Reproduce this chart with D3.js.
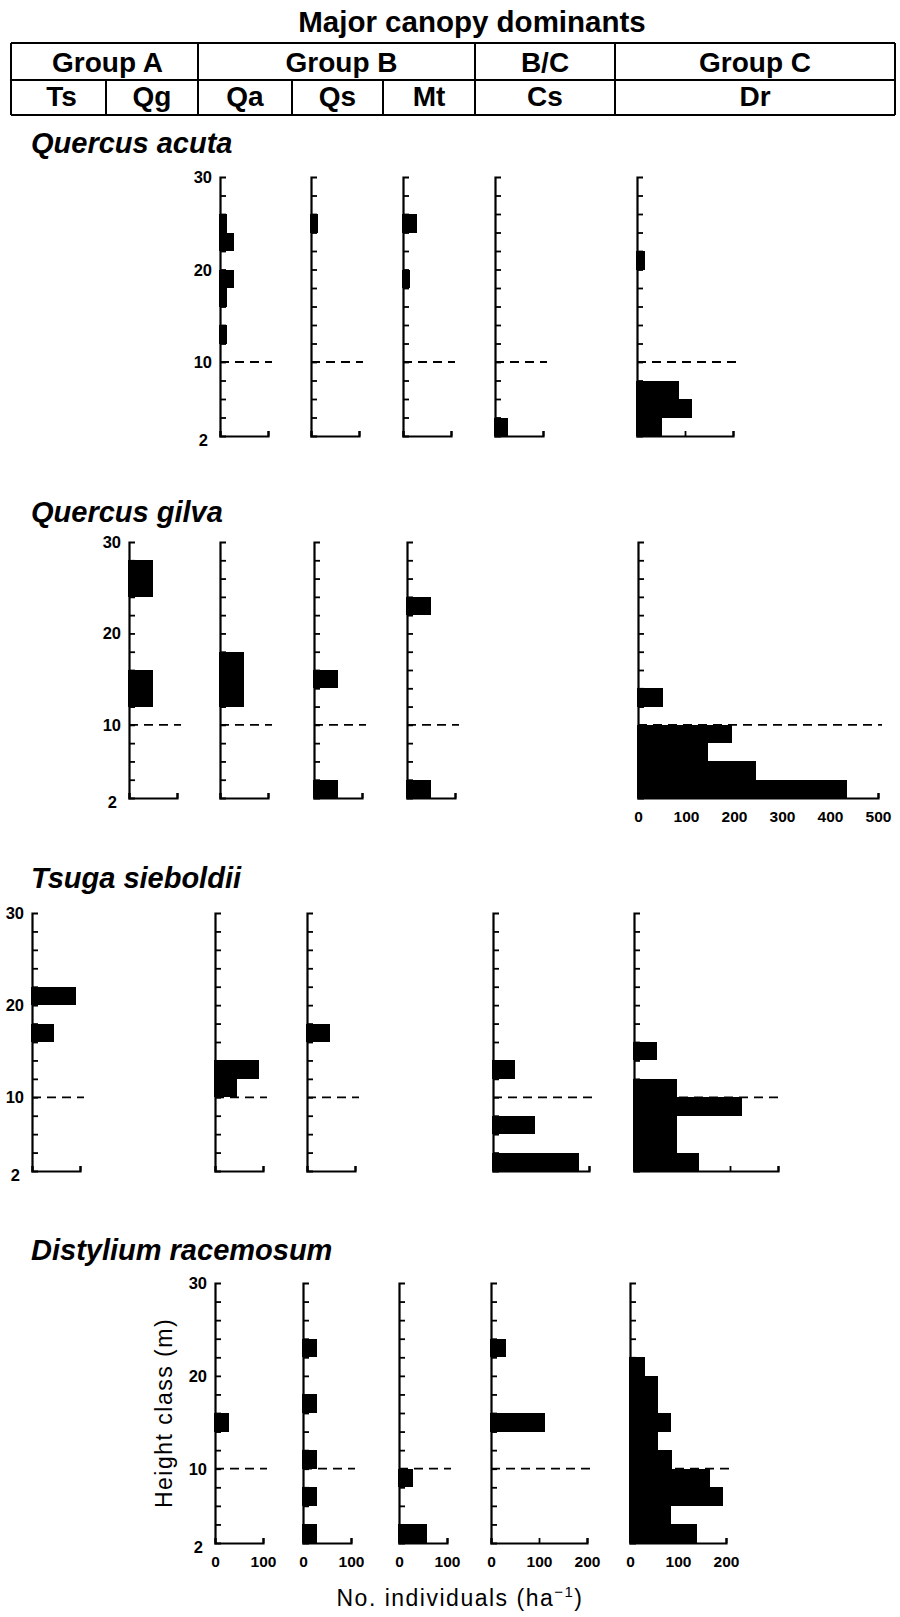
<!DOCTYPE html>
<html>
<head>
<meta charset="utf-8">
<script src="https://cdn.jsdelivr.net/npm/d3@7"></script>
<style>
  body { margin: 0; background: #fff; }
  svg { display: block; font-family: "Liberation Sans", Arial, Helvetica, sans-serif; }
</style>
</head>
<body>
<svg id="chart" width="900" height="1617"></svg>
<script>
// ---- Data ---------------------------------------------------------------
// Lower bound (m) of each 2-m height class, 2–4 m up to 28–30 m
const heightClasses = [2, 4, 6, 8, 10, 12, 14, 16, 18, 20, 22, 24, 26, 28];

// Stand types (columns) and their canopy-dominant groups
const standCodes = ["Ts", "Qg", "Qa", "Qs", "Mt", "Cs", "Dr"];
const groupLabels = ["Group A", "Group B", "B/C", "Group C"];
const groupSpans = [["Ts", "Qg"], ["Qa", "Qs", "Mt"], ["Cs"], ["Dr"]];

const speciesNames = ["Quercus acuta", "Quercus gilva", "Tsuga sieboldii", "Distylium racemosum"];

// No. individuals (ha-1) per height class, one array per species × stand
const acutaQa = [0, 0, 0, 0, 0, 15, 0, 15, 30, 0, 30, 15, 0, 0];
const acutaQs = [0, 0, 0, 0, 0, 0, 0, 0, 0, 0, 0, 15, 0, 0];
const acutaMt = [0, 0, 0, 0, 0, 0, 0, 0, 15, 0, 0, 30, 0, 0];
const acutaCs = [28, 0, 0, 0, 0, 0, 0, 0, 0, 0, 0, 0, 0, 0];
const acutaDr = [53, 115, 87, 0, 0, 0, 0, 0, 0, 17, 0, 0, 0, 0];

const gilvaQg = [0, 0, 0, 0, 0, 50, 50, 0, 0, 0, 0, 50, 50, 0];
const gilvaQa = [0, 0, 0, 0, 0, 50, 50, 50, 0, 0, 0, 0, 0, 0];
const gilvaQs = [50, 0, 0, 0, 0, 0, 50, 0, 0, 0, 0, 0, 0, 0];
const gilvaMt = [50, 0, 0, 0, 0, 0, 0, 0, 0, 0, 50, 0, 0, 0];
const gilvaDr = [435, 245, 145, 195, 0, 53, 0, 0, 0, 0, 0, 0, 0, 0];

const tsugaTs = [0, 0, 0, 0, 0, 0, 0, 46, 0, 92, 0, 0, 0, 0];
const tsugaQa = [0, 0, 0, 0, 45, 92, 0, 0, 0, 0, 0, 0, 0, 0];
const tsugaQs = [0, 0, 0, 0, 0, 0, 0, 47, 0, 0, 0, 0, 0, 0];
const tsugaCs = [180, 0, 88, 0, 0, 45, 0, 0, 0, 0, 0, 0, 0, 0];
const tsugaDr = [135, 89, 89, 224, 89, 0, 48, 0, 0, 0, 0, 0, 0, 0];

const distyliumQa = [0, 0, 0, 0, 0, 0, 29, 0, 0, 0, 0, 0, 0, 0];
const distyliumQs = [29, 0, 29, 0, 29, 0, 0, 29, 0, 0, 30, 0, 0, 0];
const distyliumMt = [58, 0, 0, 29, 0, 0, 0, 0, 0, 0, 0, 0, 0, 0];
const distyliumCs = [0, 0, 0, 0, 0, 0, 113, 0, 0, 0, 32, 0, 0, 0];
const distyliumDr = [139, 85, 194, 166, 87, 59, 85, 59, 59, 32, 0, 0, 0, 0];

// Axis ranges and labels
const heightDomain = [2, 30];
const heightTickLabels = [30, 20, 10, 2];
const canopyLine = 10;           // dashed reference height (m)
const countTickStep = 100;

// ---- Layout -------------------------------------------------------------
const PX_PER_IND = 0.48;         // horizontal px per individual ha-1
const FONT = '"Liberation Sans", Arial, Helvetica, sans-serif';

const rows = [
  { title: speciesNames[0], titleY: 153, top: 177, bottom: 436,
    panels: [
      { stand: "Qa", x: 220, max: 100, data: acutaQa },
      { stand: "Qs", x: 311, max: 100, data: acutaQs },
      { stand: "Mt", x: 403, max: 100, data: acutaMt },
      { stand: "Cs", x: 495, max: 100, data: acutaCs },
      { stand: "Dr", x: 637, max: 200, data: acutaDr }
    ] },
  { title: speciesNames[1], titleY: 522, top: 542, bottom: 798,
    panels: [
      { stand: "Qg", x: 129, max: 100, data: gilvaQg },
      { stand: "Qa", x: 220, max: 100, data: gilvaQa },
      { stand: "Qs", x: 314, max: 100, data: gilvaQs },
      { stand: "Mt", x: 407, max: 100, data: gilvaMt },
      { stand: "Dr", x: 638, max: 500, data: gilvaDr, countLabels: true }
    ] },
  { title: speciesNames[2], titleY: 888, top: 913, bottom: 1171,
    panels: [
      { stand: "Ts", x: 32, max: 100, data: tsugaTs },
      { stand: "Qa", x: 215, max: 100, data: tsugaQa },
      { stand: "Qs", x: 307, max: 100, data: tsugaQs },
      { stand: "Cs", x: 493, max: 200, data: tsugaCs },
      { stand: "Dr", x: 634, max: 300, data: tsugaDr }
    ] },
  { title: speciesNames[3], titleY: 1260, top: 1283, bottom: 1543,
    panels: [
      { stand: "Qa", x: 215, max: 100, data: distyliumQa, countLabels: true },
      { stand: "Qs", x: 303, max: 100, data: distyliumQs, countLabels: true },
      { stand: "Mt", x: 399, max: 100, data: distyliumMt, countLabels: true },
      { stand: "Cs", x: 491, max: 200, data: distyliumCs, countLabels: true },
      { stand: "Dr", x: 630, max: 200, data: distyliumDr, countLabels: true }
    ] }
];

const svg = d3.select("#chart");

// ---- Header table: major canopy dominants ------------------------------
const tableLeft = 11, tableRight = 895;
const tableRows = [43, 80, 115];
const standEdges = { Ts: [11, 106], Qg: [106, 198], Qa: [198, 292], Qs: [292, 383],
                     Mt: [383, 475], Cs: [475, 615], Dr: [615, 895] };

svg.append("text")
  .attr("x", 472).attr("y", 32)
  .attr("text-anchor", "middle")
  .attr("font-size", 29.5).attr("font-weight", "bold")
  .text("Major canopy dominants");

const header = svg.append("g").attr("stroke", "#000").attr("stroke-width", 2);
tableRows.forEach(yy => header.append("line")
  .attr("x1", tableLeft).attr("x2", tableRight).attr("y1", yy).attr("y2", yy));
header.append("line").attr("x1", tableLeft).attr("x2", tableLeft)
  .attr("y1", tableRows[0]).attr("y2", tableRows[2]);
header.append("line").attr("x1", tableRight).attr("x2", tableRight)
  .attr("y1", tableRows[0]).attr("y2", tableRows[2]);

// group boundaries run through both header rows
groupSpans.forEach((span, gi) => {
  const x0 = standEdges[span[0]][0];
  const x1 = standEdges[span[span.length - 1]][1];
  if (gi > 0) header.append("line").attr("x1", x0).attr("x2", x0)
    .attr("y1", tableRows[0]).attr("y2", tableRows[2]);
  svg.append("text")
    .attr("x", (x0 + x1) / 2 + (gi === 1 ? 5 : gi === 0 ? 3 : 0)).attr("y", 72)
    .attr("text-anchor", "middle")
    .attr("font-size", 28).attr("font-weight", "bold")
    .text(groupLabels[gi]);
});
// stand boundaries only in the lower row
standCodes.forEach((code, i) => {
  const [x0, x1] = standEdges[code];
  if (i > 0) header.append("line").attr("x1", x0).attr("x2", x0)
    .attr("y1", tableRows[1]).attr("y2", tableRows[2]);
  svg.append("text")
    .attr("x", (x0 + x1) / 2 + (code === "Ts" ? 3 : 0)).attr("y", 106)
    .attr("text-anchor", "middle")
    .attr("font-size", 28).attr("font-weight", "bold")
    .text(code);
});

// ---- Height-class histograms -------------------------------------------
rows.forEach(row => {
  svg.append("text")
    .attr("x", 31).attr("y", row.titleY)
    .attr("font-size", 29).attr("font-weight", "bold").attr("font-style", "italic")
    .text(row.title);

  const y = d3.scaleLinear().domain(heightDomain).range([row.bottom, row.top]);

  row.panels.forEach((p, pi) => {
    const x = d3.scaleLinear().domain([0, p.max])
      .range([p.x, p.x + p.max * PX_PER_IND]);
    const g = svg.append("g").attr("class", "panel " + p.stand);

    // 10-m reference line
    g.append("line")
      .attr("x1", x(0)).attr("x2", x(p.max) + 4)
      .attr("y1", y(canopyLine)).attr("y2", y(canopyLine))
      .attr("stroke", "#000").attr("stroke-width", 1.8)
      .attr("stroke-dasharray", "9,6");

    // bars, one per 2-m height class
    const bins = heightClasses.map((h, i) => ({ h, v: p.data[i] })).filter(d => d.v > 0);
    g.selectAll("rect.bar").data(bins).join("rect")
      .attr("class", "bar")
      .attr("x", x(0) - 1)
      .attr("y", d => Math.round(y(d.h + 2)))
      .attr("width", d => x(d.v) - x(0) + 1)
      .attr("height", d => Math.round(y(d.h)) - Math.round(y(d.h + 2)))
      .attr("fill", "#000")
      .attr("shape-rendering", "crispEdges");

    // height axis with inward ticks every 2 m
    const yAxis = d3.axisRight(y)
      .tickValues(d3.range(4, 30, 2))
      .tickSizeInner(6).tickSizeOuter(6)
      .tickFormat("");
    const ya = g.append("g").attr("transform", `translate(${x(0)},0)`).call(yAxis);
    ya.select(".domain").attr("stroke-width", 2.2);
    ya.selectAll(".tick line").attr("stroke-width", 1.8);

    // count axis with upward ticks every 100
    const xAxis = d3.axisBottom(x)
      .tickValues(d3.range(0, p.max + 1, countTickStep))
      .tickSizeInner(-5).tickSizeOuter(-5)
      .tickPadding(13)
      .tickFormat(d => p.countLabels ? d : "");
    const xa = g.append("g").attr("transform", `translate(0,${y(heightDomain[0])})`).call(xAxis);
    xa.attr("font-family", FONT).attr("font-size", 15.5).attr("font-weight", "bold");
    xa.select(".domain").attr("stroke-width", 2.2);
    xa.selectAll(".tick line").attr("stroke-width", 1.8);
    xa.selectAll(".tick text").attr("fill", "#000");

    // height labels on the first panel of each row
    if (pi === 0) {
      g.selectAll("text.hlab").data(heightTickLabels).join("text")
        .attr("class", "hlab")
        .attr("x", d => x(0) - (d === heightDomain[0] ? 12 : 8))
        .attr("y", d => y(d) + (d === heightDomain[0] ? 10 : 6))
        .attr("text-anchor", "end")
        .attr("font-size", 16.5).attr("font-weight", "bold")
        .text(d => d);
    }
  });
});

// ---- Axis titles --------------------------------------------------------
svg.append("text")
  .attr("transform", "translate(172,1413) rotate(-90)")
  .attr("text-anchor", "middle")
  .attr("font-size", 23).attr("letter-spacing", 1.5)
  .text("Height class (m)");

const xTitle = svg.append("text")
  .attr("x", 460).attr("y", 1606)
  .attr("text-anchor", "middle")
  .attr("font-size", 23).attr("letter-spacing", 1.5);
xTitle.append("tspan").text("No. individuals (ha");
xTitle.append("tspan").attr("dy", -9).attr("font-size", 15).text("\u22121");
xTitle.append("tspan").attr("dy", 9).text(")");
</script>
</body>
</html>
